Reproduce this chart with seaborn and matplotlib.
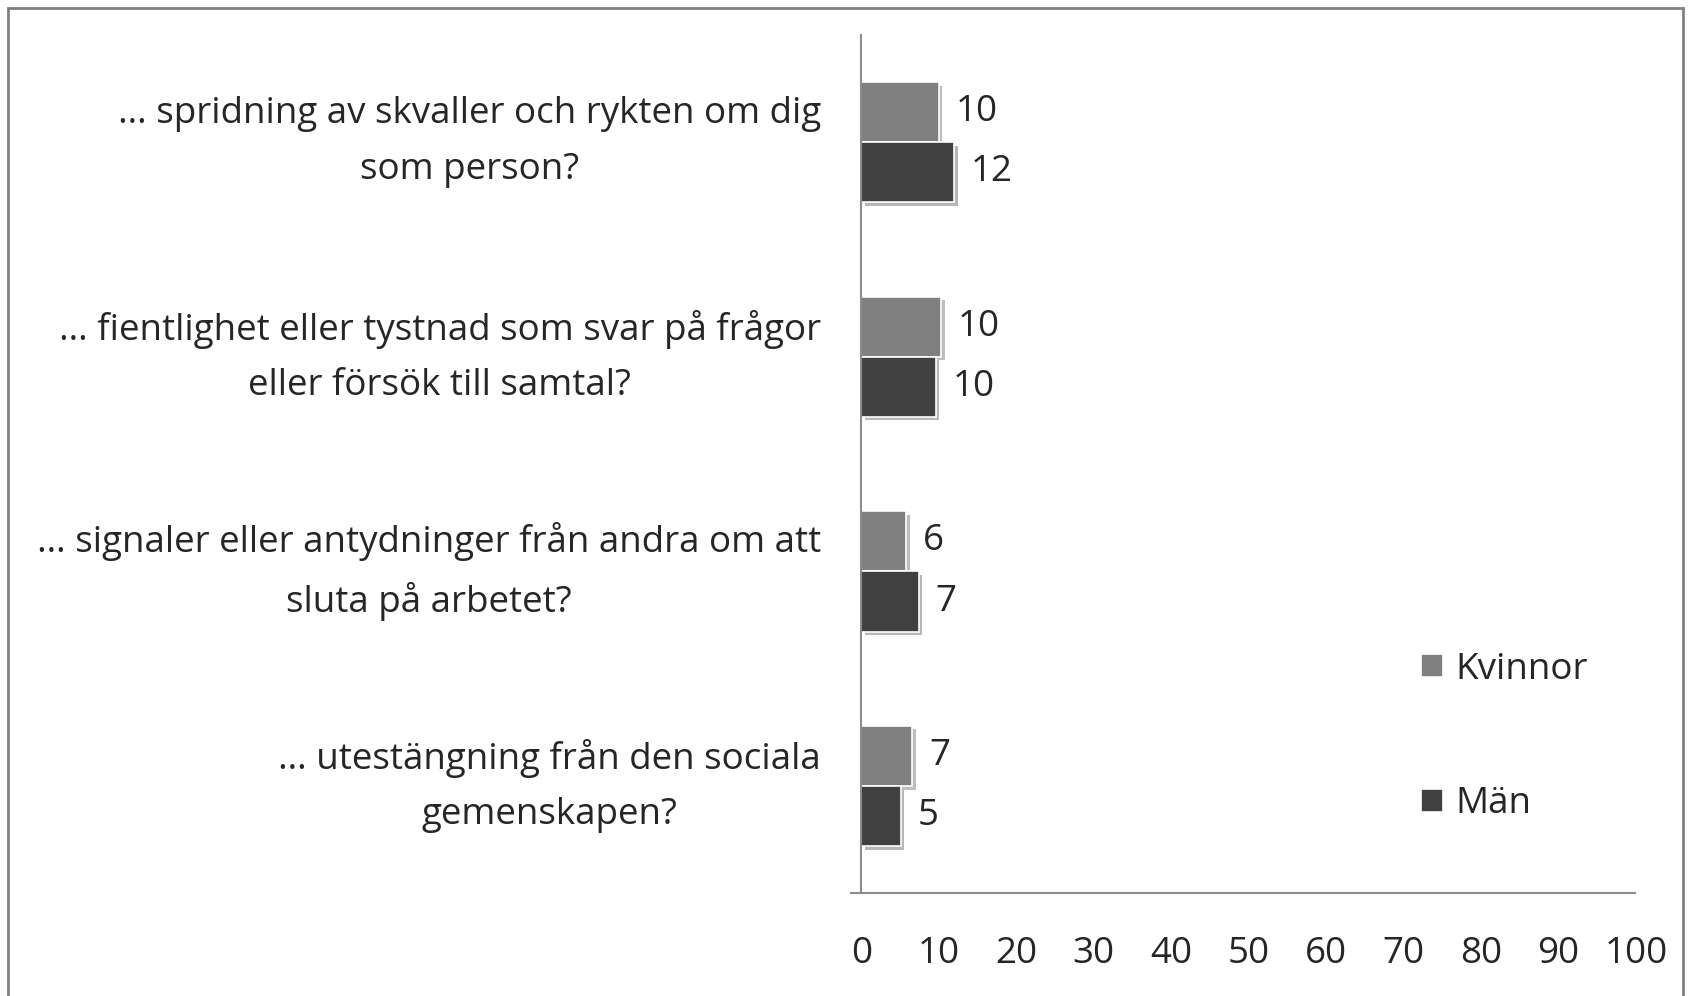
import numpy as np
import pandas as pd
import matplotlib.pyplot as plt
import matplotlib.patheffects as pe
from matplotlib.patches import Rectangle
import seaborn as sns

# data
categories = ['… spridning av skvaller och rykten om dig\nsom person?',
              '… fientlighet eller tystnad som svar på frågor\neller försök till samtal?',
              '… signaler eller antydninger från andra om att\nsluta på arbetet?',
              '… utestängning från den sociala\ngemenskapen?']
groups = ['Kvinnor', 'Män']
kvinnor = [10.0, 10.3, 5.8, 6.6]
man = [12.0, 9.6, 7.4, 5.1]
xticks = [0, 10, 20, 30, 40, 50, 60, 70, 80, 90, 100]

df = pd.DataFrame({
    'kategori': categories * 2,
    'grupp': ['Kvinnor'] * 4 + ['Män'] * 4,
    'varde': kvinnor + man,
})

sns.set_style('white')
plt.rcParams['font.family'] = ['Open Sans', 'DejaVu Sans']
fs = 26.5
grey = '#8c8c8c'

fig = plt.figure(figsize=(16.92, 9.96), dpi=100)
ax = fig.add_axes([0.509, 0.103, 0.458, 0.862])

sns.barplot(data=df, y='kategori', x='varde', hue='grupp', order=categories,
            hue_order=groups, palette=['#808080', '#404040'], width=0.56,
            orient='h', saturation=1, edgecolor='white', linewidth=1.2,
            errorbar=None, ax=ax)

shadow = [pe.SimplePatchShadow(offset=(2.5, -2.5), alpha=0.3), pe.Normal()]
for cont in ax.containers:
    for p in cont:
        p.set_path_effects(shadow)
    ax.bar_label(cont, fmt='%.0f', padding=12, fontsize=fs)

ax.set_xlim(0, 100)
ax.set_ylim(3.5, -0.5)
ax.set_xticks(xticks)
ax.set_xlabel('')
ax.set_ylabel('')
ax.set_yticks(np.arange(-0.5, 4, 1), minor=True)
ax.tick_params(axis='y', which='major', length=0, pad=29, labelsize=fs)
ax.tick_params(axis='y', which='minor', length=10, width=1.5, color=grey, direction='out')
ax.tick_params(axis='x', length=10, width=1.5, color=grey, direction='out', pad=21, labelsize=fs)
for t in ax.get_yticklabels():
    t.set_multialignment('center')
    t.set_verticalalignment('center')
    t.set_linespacing(1.72)

for s in ['top', 'right']:
    ax.spines[s].set_visible(False)
for s in ['left', 'bottom']:
    ax.spines[s].set_color(grey)
    ax.spines[s].set_linewidth(1.5)
ax.spines['bottom'].set_bounds(-1.4, 100)
ax.spines['bottom'].set_capstyle('butt')

handles, labels = ax.get_legend_handles_labels()
ax.get_legend().remove()
fig.legend(handles, labels, loc='center left', bbox_to_anchor=(0.82, 0.26),
           frameon=False, fontsize=fs, handlelength=0.6, handleheight=0.6,
           handletextpad=0.35, labelspacing=2.68)

# outer frame
fig.patches.append(Rectangle((8 / 1692, -0.05), 1 - 17 / 1692, 1.05 - 8 / 996,
                             transform=fig.transFigure, fill=False,
                             edgecolor='#808080', linewidth=2))

plt.savefig('out.png', dpi=100)
